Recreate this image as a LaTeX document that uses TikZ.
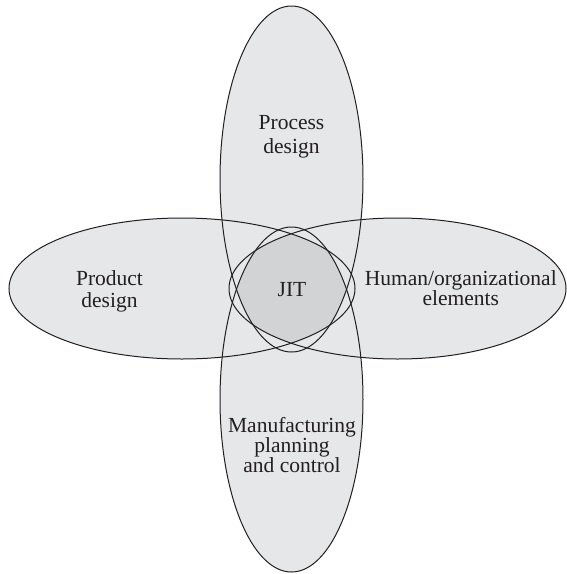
\documentclass[tikz,border=0pt]{standalone}
\usepackage{fontspec}
\setmainfont{Liberation Serif}
\definecolor{petal}{HTML}{E6E7E8}
\definecolor{core}{HTML}{D1D3D4}
\definecolor{ink}{HTML}{231F20}
\begin{document}
\begin{tikzpicture}[x=1pt,y=-1pt,
  lbl/.style={text=ink, align=center, font=\fontsize{21.5}{20}\selectfont, inner sep=0pt},
  outline/.style={draw=ink, line width=1pt}]
\useasboundingbox (0,0) rectangle (567,574);
% petals
\fill[petal] (291.5,179) ellipse [x radius=71.5pt, y radius=173pt];
\fill[petal] (291.5,399.5) ellipse [x radius=71.5pt, y radius=172.5pt];
\fill[petal] (182,288.5) ellipse [x radius=173pt, y radius=70.5pt];
\fill[petal] (397.5,288.5) ellipse [x radius=168.5pt, y radius=70.5pt];
% core: intersection of all four
\begin{scope}
  \clip (291.5,179) ellipse [x radius=71.5pt, y radius=173pt];
  \clip (291.5,399.5) ellipse [x radius=71.5pt, y radius=172.5pt];
  \clip (182,288.5) ellipse [x radius=173pt, y radius=70.5pt];
  \clip (397.5,288.5) ellipse [x radius=168.5pt, y radius=70.5pt];
  \fill[core] (0,0) rectangle (567,574);
\end{scope}
% outlines
\draw[outline] (291.5,179) ellipse [x radius=71.5pt, y radius=173pt];
\draw[outline] (291.5,399.5) ellipse [x radius=71.5pt, y radius=172.5pt];
\draw[outline] (182,288.5) ellipse [x radius=173pt, y radius=70.5pt];
\draw[outline] (397.5,288.5) ellipse [x radius=168.5pt, y radius=70.5pt];
% labels
\node[lbl] (process) at (291.5,136.7) {Process\\[4pt]design};
\node[lbl] (product) at (109.5,291.5) {Product\\[1.3pt]design};
\node[lbl] (human) at (460.8,288) {Human/organizational\\elements};
\node[lbl] (jit) at (292,289.7) {JIT};
\node[lbl] (mpc) at (292,444.6) {Manufacturing\\planning\\and control};
\end{tikzpicture}
\end{document}
